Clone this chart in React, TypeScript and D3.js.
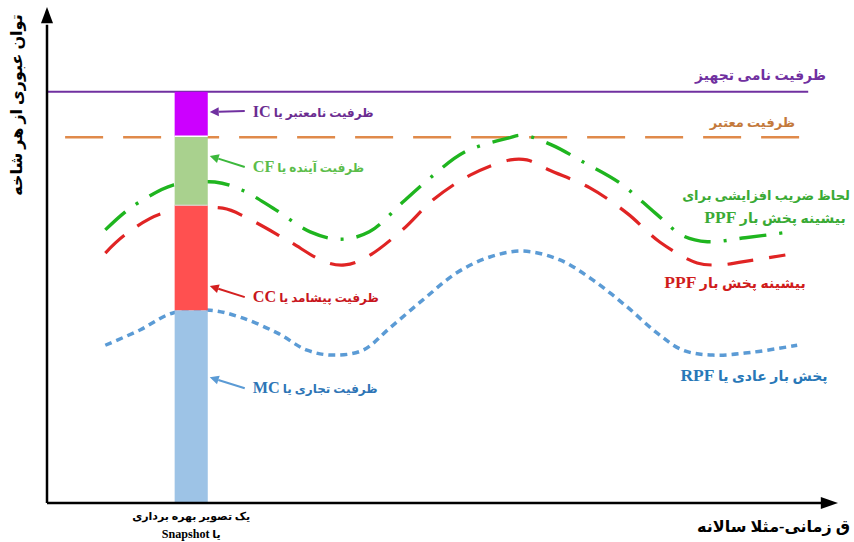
import * as d3 from 'd3'

// time axis (0..100) and capacity axis (0..100)
const greenT = [7.4, 9.9, 11.8, 16.0, 21.3, 24.7, 28.7, 33.4, 37.2, 40.9, 45.2, 48.6, 53.0, 58.5, 60.4, 64.1, 68.0, 72.7, 77.2, 80.7, 83.8, 88.6, 94.3]
const greenV = [55.4, 59.0, 61.1, 64.5, 65.1, 63.5, 59.8, 55.0, 53.5, 55.0, 61.1, 65.9, 71.2, 74.0, 74.6, 72.6, 69.2, 64.9, 58.8, 54.2, 53.0, 53.8, 55.0]

const redT = [7.4, 9.9, 14.7, 22.3, 25.4, 30.5, 35.3, 37.8, 40.6, 45.1, 49.0, 53.7, 58.8, 60.9, 63.8, 68.9, 73.6, 77.8, 82.5, 85.4, 88.2, 93.7]
const redV = [50.7, 54.4, 58.8, 59.8, 57.8, 53.3, 48.9, 48.3, 49.9, 55.4, 61.5, 66.5, 69.6, 69.6, 67.5, 63.9, 58.8, 52.9, 48.7, 48.3, 48.9, 50.3]

const blueT = [7.4, 11.8, 15.9, 20.7, 24.5, 29.2, 33.0, 36.3, 40.1, 43.5, 47.7, 52.0, 56.2, 60.4, 65.1, 69.3, 73.6, 77.4, 80.7, 84.5, 89.6, 95.2]
const blueV = [32.0, 35.1, 38.5, 39.1, 37.7, 34.5, 31.0, 30.0, 31.0, 35.5, 41.2, 46.7, 49.9, 51.1, 49.3, 45.2, 39.8, 34.5, 31.0, 30.0, 30.6, 32.0]

const ratedCapacity = 83.4
const validCapacity = 74.2
const lineStart = 2.3
const lineEnd = 96.6

// snapshot bar
const snapshotT = [16.2, 20.4]
const segLabels = ['MC', 'CC', 'CF', 'IC']
const segBounds = [0, 39.1, 60.4, 74.4, 83.4]
const segColors = ['#9dc3e6', '#ff5050', '#a9d18e', '#cc00ff']

const annTexts = ['ظرفیت تجاری یا MC', 'ظرفیت پیشامد یا CC', 'ظرفیت آینده یا CF', 'ظرفیت نامعتبر یا IC']
const annColors = ['#2e75b6', '#c8161d', '#5cbd4a', '#6b2c91']
const arrowColors = ['#5b9bd5', '#d42020', '#3cb83c', '#7030a0']
const annV = [25.5, 44.0, 70.4, 79.3]

const W = 854
const H = 542

const x = d3.scaleLinear().domain([0, 100]).range([47, 835])
const y = d3.scaleLinear().domain([0, 100]).range([503, 10])

const line = d3.line<[number, number]>()
  .x(d => x(d[0]))
  .y(d => y(d[1]))
  .curve(d3.curveCatmullRom.alpha(0.5))

const zip = (t: number[], v: number[]) => t.map((d, i) => [d, v[i]] as [number, number])

const font = '"Liberation Serif", "DejaVu Sans", serif'

const Arrow = ({ x1, y1, x2, y2, color }: { x1: number; y1: number; x2: number; y2: number; color: string }) => {
  const a = Math.atan2(y2 - y1, x2 - x1)
  const L = 9, hw = 4.5
  const bx = x2 - L * Math.cos(a), by = y2 - L * Math.sin(a)
  const px = -Math.sin(a) * hw, py = Math.cos(a) * hw
  return (
    <g>
      <line x1={x1} y1={y1} x2={bx} y2={by} stroke={color} strokeWidth={2} />
      <path d={`M${x2},${y2}L${bx + px},${by + py}L${bx - px},${by - py}Z`} fill={color} />
    </g>
  )
}

// rtl text: with direction rtl, "end" puts the left edge at x; latin words a bit larger
const RText = (p: { x: number; y: number; fill?: string; size: number; anchor: string; latin?: number; children: string }) => {
  const parts = p.children.split(/([A-Za-z]+)/).filter(s => s.length)
  return (
    <text x={p.x} y={p.y} fill={p.fill || '#000'} fontFamily={font} fontWeight="bold" fontSize={p.size} textAnchor={p.anchor} direction="rtl">
      {parts.map((s, i) => /[A-Za-z]/.test(s)
        ? <tspan key={i} fontSize={p.size * (p.latin || 1.25)}>{s}</tspan>
        : <tspan key={i}>{s}</tspan>)}
    </text>
  )
}

export default function App() {
  const barX0 = x(snapshotT[0])
  const barX1 = x(snapshotT[1])
  const barMid = (barX0 + barX1) / 2
  return (
    <svg width={W} height={H} style={{ position: 'absolute', left: 0, top: 0, background: '#fff' }}>
      {/* rated & valid capacity */}
      <line x1={x(0)} x2={x(lineEnd)} y1={y(ratedCapacity)} y2={y(ratedCapacity)} stroke="#7030a0" strokeWidth={2} />
      <line x1={x(lineStart)} x2={x(lineEnd)} y1={y(validCapacity)} y2={y(validCapacity)} stroke="#e08a4a" strokeWidth={2.5} strokeDasharray="38 20" />

      {/* curves */}
      <path d={line(zip(blueT, blueV)) || ''} fill="none" stroke="#5b9bd5" strokeWidth={3.5} strokeDasharray="7 5" />
      <path d={line(zip(redT, redV)) || ''} fill="none" stroke="#e02424" strokeWidth={3.2} strokeDasharray="26 16" />
      <path d={line(zip(greenT, greenV)) || ''} fill="none" stroke="#1fb51f" strokeWidth={3.4} strokeDasharray="27 13 3 13" />

      {/* snapshot bar */}
      {segLabels.map((k, i) => (
        <rect key={k} x={barX0} width={barX1 - barX0} y={y(segBounds[i + 1])} height={y(segBounds[i]) - y(segBounds[i + 1])} fill={segColors[i]} />
      ))}
      <line x1={barX0} x2={barX1} y1={y(segBounds[3])} y2={y(segBounds[3])} stroke="#fff" strokeWidth={1.5} />
      <line x1={barX0} x2={barX1} y1={y(segBounds[2])} y2={y(segBounds[2])} stroke="#ddd" strokeWidth={1} />

      {/* annotations */}
      {annTexts.map((t, i) => {
        const yy = y(annV[i])
        return (
          <g key={t}>
            <Arrow x1={barX1 + 37} y1={yy + (i === 3 ? -1 : 11)} x2={barX1 + 2} y2={yy} color={arrowColors[i]} />
            <RText x={barX1 + 45} y={yy + (i === 3 ? 5 : 16)} fill={annColors[i]} size={12} anchor="end" latin={1.35}>{t}</RText>
          </g>
        )
      })}

      {/* right-side labels */}
      <RText x={826} y={80} fill="#7030a0" size={14} anchor="start">ظرفیت نامی تجهیز</RText>
      <RText x={795} y={127} fill="#c47a3c" size={13} anchor="start">ظرفیت معتبر</RText>
      <RText x={850} y={200} fill="#3aaa35" size={13} anchor="start">لحاظ ضریب افزایشی برای</RText>
      <RText x={775} y={223} fill="#3aaa35" size={14} anchor="middle">بیشینه پخش بار PPF</RText>
      <RText x={735} y={288} fill="#d01c1c" size={14} anchor="middle">بیشینه پخش بار PPF</RText>
      <RText x={754} y={381} fill="#2878b8" size={14} anchor="middle">پخش بار عادی یا RPF</RText>

      {/* axes */}
      <line x1={x(0)} y1={y(0)} x2={x(0)} y2={y(97)} stroke="#000" strokeWidth={2.5} />
      <path d={`M${x(0)},${y(100) - 3}L${x(0) - 6},${y(97.3)}L${x(0) + 6},${y(97.3)}Z`} fill="#000" />
      <line x1={x(0)} y1={y(0)} x2={x(98.5)} y2={y(0)} stroke="#000" strokeWidth={2.5} />
      <path d={`M${x(100) + 3},${y(0)}L${x(98.2)},${y(0) - 6}L${x(98.2)},${y(0) + 6}Z`} fill="#000" />

      <text transform={`translate(22,105) rotate(-90)`} fontFamily={font} fontWeight="bold" fontSize={16} textAnchor="middle">توان عبوری از هر شاخه</text>
      <RText x={850} y={532} size={16} anchor="start">ق زمانی-مثلا سالانه</RText>
      <RText x={barMid} y={520} size={11} anchor="middle">یک تصویر بهره برداری</RText>
      <RText x={barMid} y={538} size={11} anchor="middle" latin={1.1}>یا Snapshot</RText>
    </svg>
  )
}
